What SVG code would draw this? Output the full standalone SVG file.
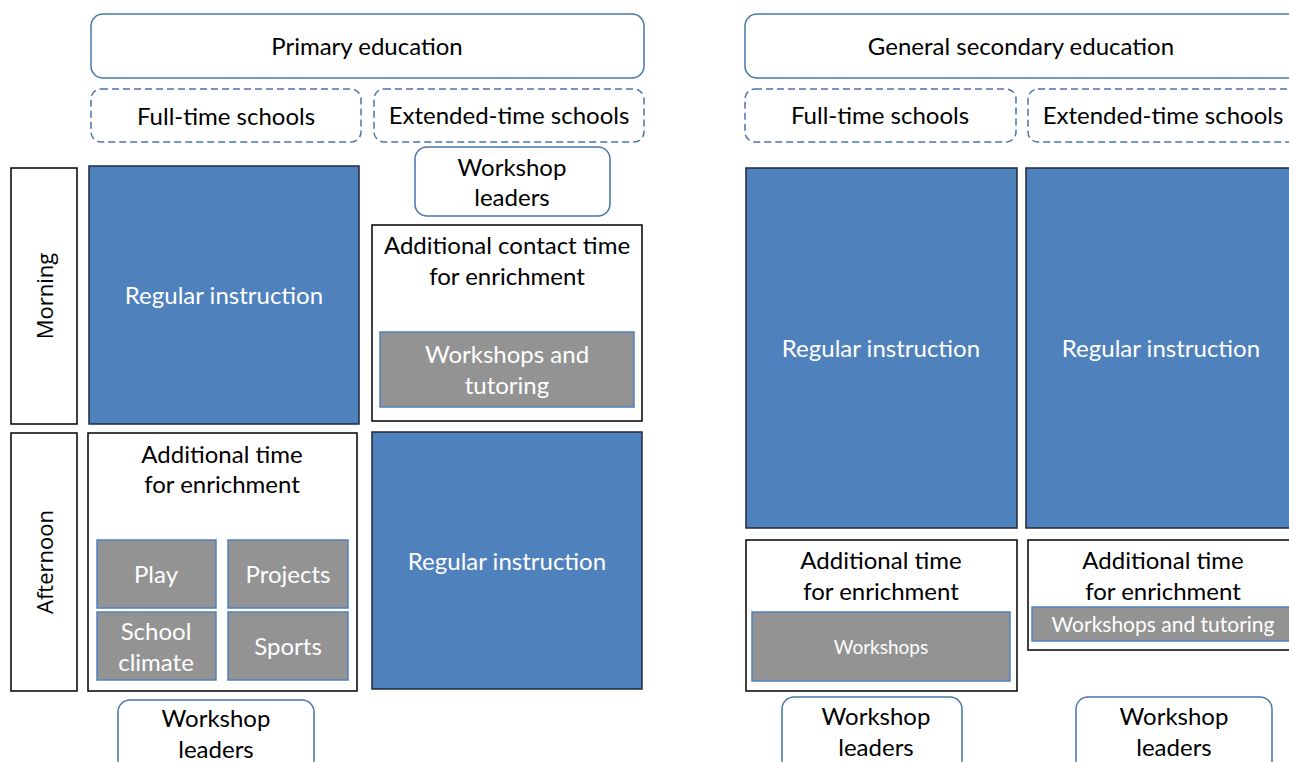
<svg xmlns="http://www.w3.org/2000/svg" width="1289" height="762" viewBox="0 0 1289 762">
<style>
text{font-family:Lato,"Liberation Sans",sans-serif;font-size:24px;text-anchor:middle;fill:#000}
.w{fill:#fff}
.s{font-size:19px}
.s2{font-size:21px}
.rot{font-family:"Open Sans",Lato,sans-serif;font-size:22px}
.hdr{fill:#fff;stroke:#4a76a8;stroke-width:1.5}
.dash{fill:#fff;stroke:#4a76a8;stroke-width:1.5;stroke-dasharray:7 4}
.blue{fill:#4f81bd;stroke:#1f2a38;stroke-width:1.5}
.box{fill:#fff;stroke:#000;stroke-width:1.5}
.gray{fill:#939393;stroke:#4f81bd;stroke-width:1.5}
</style>
<rect width="1289" height="762" fill="#fff"/>
<g id="primary">
<rect class="hdr" x="91" y="14" width="553" height="64" rx="12"/>
<text x="367" y="55">Primary education</text>
</g>
<g id="p-fulltime">
<rect class="dash" x="91" y="89" width="270" height="53" rx="10"/>
<text x="226" y="125">Full-time schools</text>
</g>
<g id="p-extended">
<rect class="dash" x="374" y="89" width="270" height="53" rx="10"/>
<text x="509" y="124">Extended-time schools</text>
</g>
<g id="p-wl-top">
<rect class="hdr" x="415" y="147" width="195" height="69" rx="12"/>
<text x="512" y="176">Workshop</text>
<text x="512" y="206">leaders</text>
</g>
<g id="morning">
<rect class="box" x="11" y="168" width="66" height="256"/>
<text class="rot" transform="translate(53,296) rotate(-90)">Morning</text>
</g>
<g id="p-reg-morning">
<rect class="blue" x="89" y="166" width="270" height="258"/>
<text class="w" x="224" y="304">Regular instruction</text>
</g>
<g id="p-contact">
<rect class="box" x="372" y="225" width="270" height="196"/>
<text x="507" y="254">Additional contact time</text>
<text x="507" y="285">for enrichment</text>
<rect class="gray" x="380" y="332" width="254" height="75"/>
<text class="w" x="507" y="363">Workshops and</text>
<text class="w" x="507" y="394">tutoring</text>
</g>
<g id="afternoon">
<rect class="box" x="11" y="433" width="66" height="258"/>
<text class="rot" transform="translate(53,562) rotate(-90)">Afternoon</text>
</g>
<g id="p-additional">
<rect class="box" x="88" y="433" width="269" height="258"/>
<text x="222" y="463">Additional time</text>
<text x="222" y="493">for enrichment</text>
<rect class="gray" x="97" y="540" width="119" height="68"/>
<text class="w" x="156" y="583">Play</text>
<rect class="gray" x="228" y="540" width="120" height="68"/>
<text class="w" x="288" y="583">Projects</text>
<rect class="gray" x="97" y="612" width="119" height="68"/>
<text class="w" x="156" y="640">School</text>
<text class="w" x="156" y="671">climate</text>
<rect class="gray" x="228" y="612" width="120" height="68"/>
<text class="w" x="288" y="655">Sports</text>
</g>
<g id="p-reg-afternoon">
<rect class="blue" x="372" y="432" width="270" height="257"/>
<text class="w" x="507" y="570">Regular instruction</text>
</g>
<g id="p-wl-bottom">
<rect class="hdr" x="118" y="700" width="196" height="75" rx="12"/>
<text x="216" y="727">Workshop</text>
<text x="216" y="758">leaders</text>
</g>
<g id="secondary">
<rect class="hdr" x="745" y="14" width="560" height="64" rx="12"/>
<text x="1021" y="55">General secondary education</text>
</g>
<g id="s-fulltime">
<rect class="dash" x="745" y="89" width="271" height="53" rx="10"/>
<text x="880" y="124">Full-time schools</text>
</g>
<g id="s-extended">
<rect class="dash" x="1028" y="89" width="280" height="53" rx="10"/>
<text x="1163" y="124">Extended-time schools</text>
</g>
<g id="s-reg-full">
<rect class="blue" x="746" y="168" width="271" height="360"/>
<text class="w" x="881" y="357">Regular instruction</text>
</g>
<g id="s-reg-ext">
<rect class="blue" x="1026" y="168" width="280" height="360"/>
<text class="w" x="1161" y="357">Regular instruction</text>
</g>
<g id="s-add-full">
<rect class="box" x="746" y="540" width="271" height="151"/>
<text x="881" y="569">Additional time</text>
<text x="881" y="600">for enrichment</text>
<rect class="gray" x="752" y="612" width="258" height="69"/>
<text class="w s" x="881" y="654">Workshops</text>
</g>
<g id="s-add-ext">
<rect class="box" x="1028" y="540" width="280" height="110"/>
<text x="1163" y="569">Additional time</text>
<text x="1163" y="600">for enrichment</text>
<rect class="gray" x="1032" y="607" width="270" height="34"/>
<text class="w s2" x="1163" y="632">Workshops and tutoring</text>
</g>
<g id="s-wl-full">
<rect class="hdr" x="782" y="697" width="180" height="78" rx="12"/>
<text x="876" y="725">Workshop</text>
<text x="876" y="756">leaders</text>
</g>
<g id="s-wl-ext">
<rect class="hdr" x="1076" y="697" width="196" height="78" rx="12"/>
<text x="1174" y="725">Workshop</text>
<text x="1174" y="756">leaders</text>
</g>
<g id="connectors"></g>
</svg>
